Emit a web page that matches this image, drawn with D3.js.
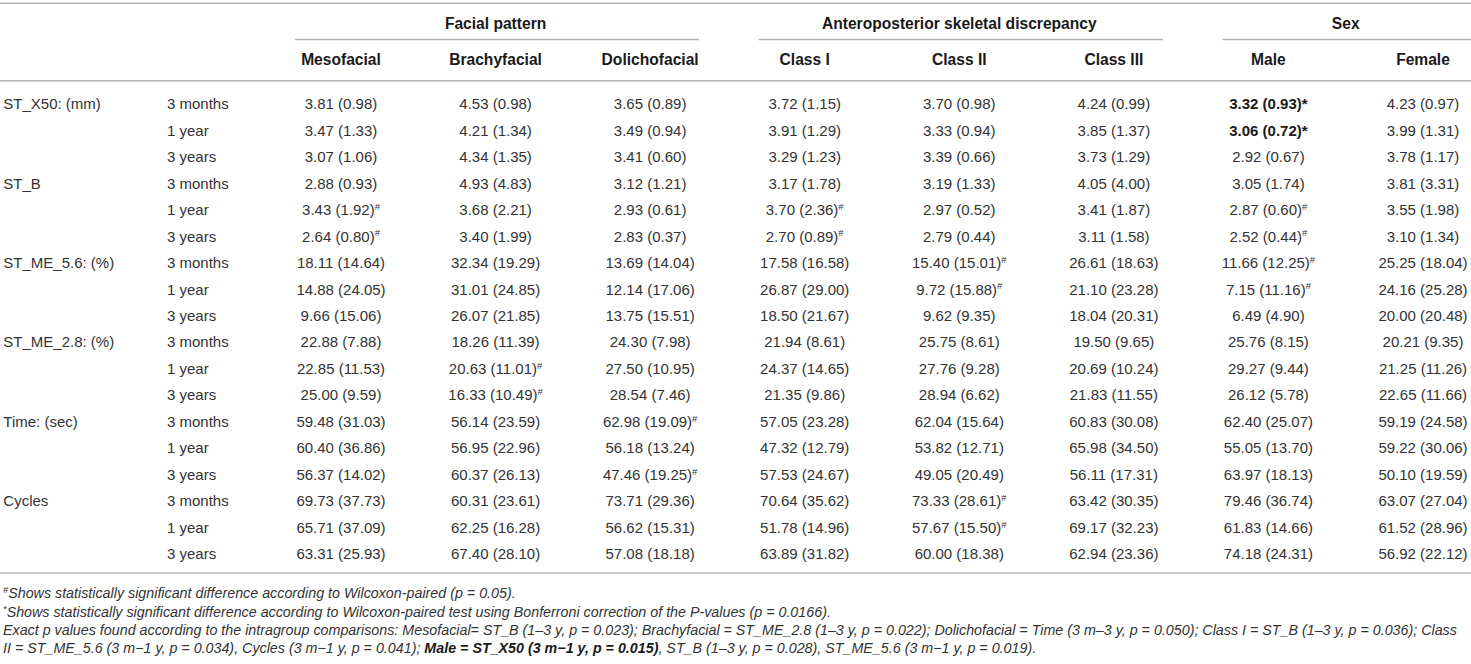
<!DOCTYPE html>
<html>
<head>
<meta charset="utf-8">
<script src="https://cdn.jsdelivr.net/npm/d3@7/dist/d3.min.js"></script>
<style>
  html, body { margin: 0; padding: 0; background: #fff; }
  svg { display: block; font-family: "Liberation Sans", Arial, Helvetica, sans-serif; }
</style>
</head>
<body>
<svg id="chart" width="1471" height="664"></svg>
<script>
// ---------------- DATA ----------------
const groups = ["Facial pattern", "Anteroposterior skeletal discrepancy", "Sex"];
const columns = ["Mesofacial", "Brachyfacial", "Dolichofacial", "Class I", "Class II", "Class III", "Male", "Female"];
const columnGroup = [0, 0, 0, 1, 1, 1, 2, 2];
const variables = ["ST_X50: (mm)", "ST_B", "ST_ME_5.6: (%)", "ST_ME_2.8: (%)", "Time: (sec)", "Cycles"];
const timepoints = ["3 months", "1 year", "3 years"];

// cell text "mean (sd)"; trailing "#" = Wilcoxon-paired significant, trailing "*" = Bonferroni significant (bold)
const mesofacial = ["3.81 (0.98)", "3.47 (1.33)", "3.07 (1.06)", "2.88 (0.93)", "3.43 (1.92)#", "2.64 (0.80)#",
  "18.11 (14.64)", "14.88 (24.05)", "9.66 (15.06)", "22.88 (7.88)", "22.85 (11.53)", "25.00 (9.59)",
  "59.48 (31.03)", "60.40 (36.86)", "56.37 (14.02)", "69.73 (37.73)", "65.71 (37.09)", "63.31 (25.93)"];
const brachyfacial = ["4.53 (0.98)", "4.21 (1.34)", "4.34 (1.35)", "4.93 (4.83)", "3.68 (2.21)", "3.40 (1.99)",
  "32.34 (19.29)", "31.01 (24.85)", "26.07 (21.85)", "18.26 (11.39)", "20.63 (11.01)#", "16.33 (10.49)#",
  "56.14 (23.59)", "56.95 (22.96)", "60.37 (26.13)", "60.31 (23.61)", "62.25 (16.28)", "67.40 (28.10)"];
const dolichofacial = ["3.65 (0.89)", "3.49 (0.94)", "3.41 (0.60)", "3.12 (1.21)", "2.93 (0.61)", "2.83 (0.37)",
  "13.69 (14.04)", "12.14 (17.06)", "13.75 (15.51)", "24.30 (7.98)", "27.50 (10.95)", "28.54 (7.46)",
  "62.98 (19.09)#", "56.18 (13.24)", "47.46 (19.25)#", "73.71 (29.36)", "56.62 (15.31)", "57.08 (18.18)"];
const classI = ["3.72 (1.15)", "3.91 (1.29)", "3.29 (1.23)", "3.17 (1.78)", "3.70 (2.36)#", "2.70 (0.89)#",
  "17.58 (16.58)", "26.87 (29.00)", "18.50 (21.67)", "21.94 (8.61)", "24.37 (14.65)", "21.35 (9.86)",
  "57.05 (23.28)", "47.32 (12.79)", "57.53 (24.67)", "70.64 (35.62)", "51.78 (14.96)", "63.89 (31.82)"];
const classII = ["3.70 (0.98)", "3.33 (0.94)", "3.39 (0.66)", "3.19 (1.33)", "2.97 (0.52)", "2.79 (0.44)",
  "15.40 (15.01)#", "9.72 (15.88)#", "9.62 (9.35)", "25.75 (8.61)", "27.76 (9.28)", "28.94 (6.62)",
  "62.04 (15.64)", "53.82 (12.71)", "49.05 (20.49)", "73.33 (28.61)#", "57.67 (15.50)#", "60.00 (18.38)"];
const classIII = ["4.24 (0.99)", "3.85 (1.37)", "3.73 (1.29)", "4.05 (4.00)", "3.41 (1.87)", "3.11 (1.58)",
  "26.61 (18.63)", "21.10 (23.28)", "18.04 (20.31)", "19.50 (9.65)", "20.69 (10.24)", "21.83 (11.55)",
  "60.83 (30.08)", "65.98 (34.50)", "56.11 (17.31)", "63.42 (30.35)", "69.17 (32.23)", "62.94 (23.36)"];
const male = ["3.32 (0.93)*", "3.06 (0.72)*", "2.92 (0.67)", "3.05 (1.74)", "2.87 (0.60)#", "2.52 (0.44)#",
  "11.66 (12.25)#", "7.15 (11.16)#", "6.49 (4.90)", "25.76 (8.15)", "29.27 (9.44)", "26.12 (5.78)",
  "62.40 (25.07)", "55.05 (13.70)", "63.97 (18.13)", "79.46 (36.74)", "61.83 (14.66)", "74.18 (24.31)"];
const female = ["4.23 (0.97)", "3.99 (1.31)", "3.78 (1.17)", "3.81 (3.31)", "3.55 (1.98)", "3.10 (1.34)",
  "25.25 (18.04)", "24.16 (25.28)", "20.00 (20.48)", "20.21 (9.35)", "21.25 (11.26)", "22.65 (11.66)",
  "59.19 (24.58)", "59.22 (30.06)", "50.10 (19.59)", "63.07 (27.04)", "61.52 (28.96)", "56.92 (22.12)"];

const footnotes = [
  [{t: "#", sup: true}, {t: "Shows statistically significant difference according to Wilcoxon-paired (p = 0.05)."}],
  [{t: "*", sup: true}, {t: "Shows statistically significant difference according to Wilcoxon-paired test using Bonferroni correction of the P-values (p = 0.0166)."}],
  [{t: "Exact p values found according to the intragroup comparisons: Mesofacial= ST_B (1–3 y, p = 0.023); Brachyfacial = ST_ME_2.8 (1–3 y, p = 0.022); Dolichofacial = Time (3 m–3 y, p = 0.050); Class I = ST_B (1–3 y, p = 0.036); Class"}],
  [{t: "II = ST_ME_5.6 (3 m−1 y, p = 0.034), Cycles (3 m−1 y, p = 0.041); "}, {t: "Male = ST_X50 (3 m−1 y, p = 0.015)", bold: true}, {t: ", ST_B (1–3 y, p = 0.028), ST_ME_5.6 (3 m−1 y, p = 0.019)."}]
];

// ---------------- BUILD ----------------
const columnValues = [mesofacial, brachyfacial, dolichofacial, classI, classII, classIII, male, female];
const rowKeys = [];
variables.forEach((v, vi) => timepoints.forEach((t, ti) => rowKeys.push({v, vi, t, ti, key: vi + "-" + ti})));

const W = 1471, H = 664;
const svg = d3.select("#chart");
const FS = 15;
const FSH = 15.6;
const textColor = "#333";
const headColor = "#1a1a1a";
const lineColor = "#b4b4b4";

const x = d3.scalePoint().domain(columns).range([341, 1423]);
const y = d3.scalePoint().domain(rowKeys.map(r => r.key)).range([104, 554]);

// horizontal rules
const rules = [3.3, 80.7, 573];
svg.selectAll("line.rule").data(rules).join("line")
  .attr("class", "rule")
  .attr("x1", 0).attr("x2", W)
  .attr("y1", d => d).attr("y2", d => d)
  .attr("stroke", lineColor).attr("stroke-width", 1.6);

// group headers + underlines
const groupInfo = groups.map((g, gi) => {
  const cols = columns.filter((c, ci) => columnGroup[ci] === gi);
  const xs = cols.map(c => x(c));
  return {g, x0: d3.min(xs), x1: d3.max(xs)};
});
svg.selectAll("text.group").data(groupInfo).join("text")
  .attr("class", "group")
  .attr("x", d => (d.x0 + d.x1) / 2).attr("y", 23.3).attr("dy", "0.35em")
  .attr("text-anchor", "middle").attr("font-weight", "bold")
  .attr("font-size", FSH).attr("fill", headColor)
  .text(d => d.g);
svg.selectAll("line.gline").data(groupInfo).join("line")
  .attr("class", "gline")
  .attr("x1", d => d.x0 - 46).attr("x2", d => Math.min(W, d.x1 + 49))
  .attr("y1", 39.5).attr("y2", 39.5)
  .attr("stroke", lineColor).attr("stroke-width", 1.4);

// column headers
svg.selectAll("text.colhead").data(columns).join("text")
  .attr("class", "colhead")
  .attr("x", d => x(d)).attr("y", 59.5).attr("dy", "0.35em")
  .attr("text-anchor", "middle").attr("font-weight", "bold")
  .attr("font-size", FSH).attr("fill", headColor)
  .text(d => d);

// row labels
svg.selectAll("text.varlab").data(rowKeys.filter(r => r.ti === 0)).join("text")
  .attr("class", "varlab")
  .attr("x", 3.3).attr("y", d => y(d.key)).attr("dy", "0.35em")
  .attr("font-size", FS).attr("fill", textColor)
  .text(d => d.v);
svg.selectAll("text.timelab").data(rowKeys).join("text")
  .attr("class", "timelab")
  .attr("x", 167).attr("y", d => y(d.key)).attr("dy", "0.35em")
  .attr("font-size", FS).attr("fill", textColor)
  .text(d => d.t);

// cells
const cells = [];
columns.forEach((c, ci) => {
  columnValues[ci].forEach((s, ri) => {
    let mark = "";
    let txt = s;
    if (s.endsWith("#") || s.endsWith("*")) { mark = s.slice(-1); txt = s.slice(0, -1); }
    cells.push({c, row: rowKeys[ri].key, txt, mark});
  });
});
const cellSel = svg.selectAll("text.cell").data(cells).join("text")
  .attr("class", "cell")
  .attr("x", d => x(d.c)).attr("y", d => y(d.row)).attr("dy", "0.35em")
  .attr("text-anchor", "middle")
  .attr("font-size", FS)
  .attr("fill", d => d.mark === "*" ? headColor : textColor)
  .attr("font-weight", d => d.mark === "*" ? "bold" : "normal");
cellSel.append("tspan").text(d => d.mark === "*" ? d.txt + "*" : d.txt);
cellSel.filter(d => d.mark === "#").append("tspan")
  .attr("font-size", 9.5).attr("dy", "-0.55em").text("#");

// footnotes
const fnY = [593, 611.5, 630, 648];
const fnSel = svg.selectAll("text.fn").data(footnotes).join("text")
  .attr("class", "fn")
  .attr("x", 3).attr("y", (d, i) => fnY[i]).attr("dy", "0.35em")
  .attr("font-style", "italic").attr("font-size", 13).attr("fill", textColor);
fnSel.each(function(parts) {
  const t = d3.select(this);
  parts.forEach(p => {
    const ts = t.append("tspan").text(p.t);
    if (p.sup) ts.attr("font-size", 8.5).attr("baseline-shift", "super");
    if (p.bold) ts.attr("font-weight", "bold").attr("fill", headColor);
  });
});
// fit footnote font so the 3rd line spans the reference width
const ref = fnSel.filter((d, i) => i === 2).node();
const len = ref.getComputedTextLength();
const fs2 = 13 * 1455 / len;
fnSel.attr("font-size", fs2);
fnSel.selectAll("tspan").filter(function() { return d3.select(this).attr("baseline-shift") === "super"; })
  .attr("font-size", fs2 * 0.65);
</script>
</body>
</html>
